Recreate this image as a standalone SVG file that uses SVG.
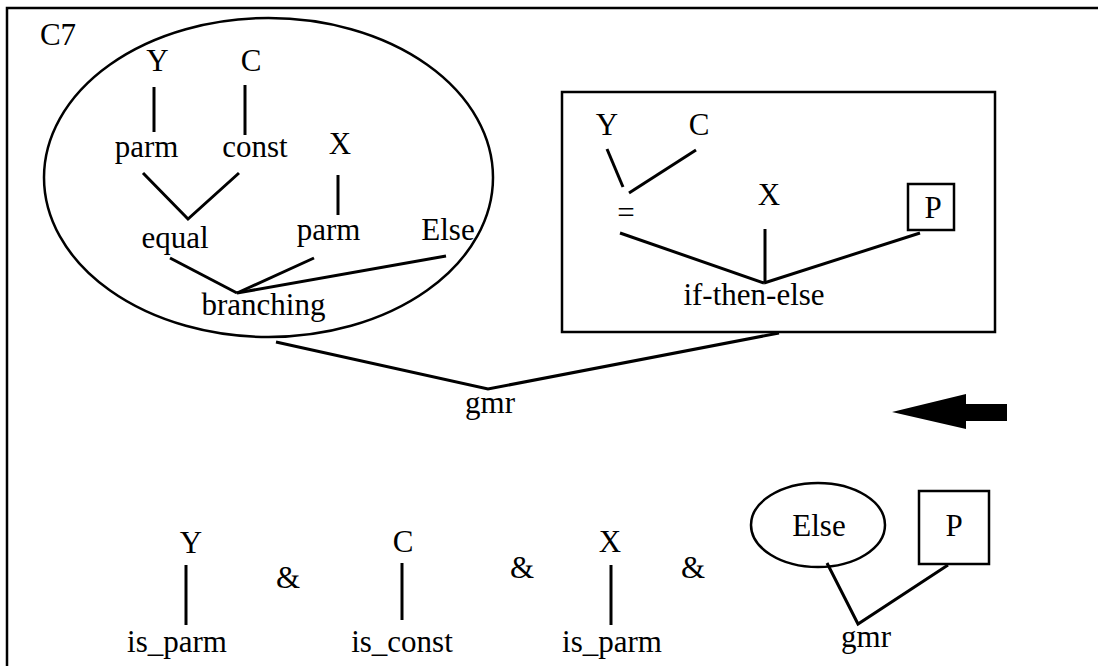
<svg xmlns="http://www.w3.org/2000/svg" width="1098" height="666" viewBox="0 0 1098 666">
<style>
text{font-family:"Liberation Serif","Times New Roman",serif;font-size:31px;fill:#000;text-anchor:middle}
.ln{stroke:#000;stroke-width:3;fill:none;stroke-linecap:butt}
.sh{stroke:#000;stroke-width:2.5;fill:none}
</style>
<rect x="0" y="0" width="1098" height="666" fill="#fff"/>
<rect id="frame" class="sh" x="7" y="8" width="1110" height="700"/>
<text id="label-c7" x="58" y="45">C7</text>
<g id="ellipse-tree">
<ellipse class="sh" cx="268.5" cy="177.5" rx="224.5" ry="159.5"/>
<text x="157.5" y="71">Y</text>
<text x="251" y="71">C</text>
<text x="146.5" y="157">parm</text>
<text x="255" y="157">const</text>
<text x="340" y="154">X</text>
<text x="175" y="248">equal</text>
<text x="328.5" y="240">parm</text>
<text x="448" y="240">Else</text>
<text x="263.5" y="315">branching</text>
</g>
<g id="box-tree">
<rect class="sh" x="562" y="92" width="433" height="240"/>
<text x="607" y="135">Y</text>
<text x="699" y="135">C</text>
<text x="626" y="223">=</text>
<text x="769" y="205">X</text>
<rect class="sh" x="908" y="184" width="46" height="46"/>
<text x="933" y="218">P</text>
<text x="754" y="305">if-then-else</text>
</g>
<g id="gmr-top"><text x="490" y="413">gmr</text></g>
<g id="arrow"><path d="M892 412 L966 394 L966 404 L1007 404 L1007 421 L966 421 L966 429 Z" fill="#000"/></g>
<g id="cond-y"><text x="191" y="553">Y</text><text x="177" y="652">is_parm</text></g>
<g id="amp1"><text x="288" y="588">&amp;</text></g>
<g id="cond-c"><text x="403" y="552">C</text><text x="402" y="652">is_const</text></g>
<g id="amp2"><text x="522" y="578">&amp;</text></g>
<g id="cond-x"><text x="610" y="552">X</text><text x="612" y="652">is_parm</text></g>
<g id="amp3"><text x="693" y="578">&amp;</text></g>
<g id="cond-gmr">
<ellipse class="sh" cx="818" cy="525" rx="67" ry="42"/>
<text x="819" y="536">Else</text>
<rect class="sh" x="919" y="491" width="70" height="73"/>
<text x="954" y="536">P</text>
<text x="866" y="647">gmr</text>
</g>
<g id="connectors">
<line class="ln" x1="154" y1="87" x2="154" y2="132"/>
<line class="ln" x1="245" y1="85" x2="245" y2="135"/>
<line class="ln" x1="338" y1="175" x2="338" y2="215"/>
<polyline class="ln" points="143,173 188,219 239,173"/>
<line class="ln" x1="170" y1="258" x2="237" y2="293"/>
<line class="ln" x1="314" y1="258" x2="237" y2="293"/>
<line class="ln" x1="446" y1="256" x2="237" y2="293"/>
<line class="ln" x1="607" y1="149" x2="623" y2="187"/>
<line class="ln" x1="629" y1="193" x2="696" y2="150"/>
<line class="ln" x1="620" y1="233" x2="764" y2="283"/>
<line class="ln" x1="765" y1="229" x2="765" y2="283"/>
<line class="ln" x1="920" y1="233" x2="764" y2="283"/>
<polyline class="ln" points="276,342 488,389 779,333"/>
<line class="ln" x1="186" y1="565" x2="186" y2="625"/>
<line class="ln" x1="402" y1="563" x2="402" y2="620"/>
<line class="ln" x1="611" y1="565" x2="611" y2="625"/>
<polyline class="ln" points="827,563 858,624 948,565"/>
</g>
</svg>
